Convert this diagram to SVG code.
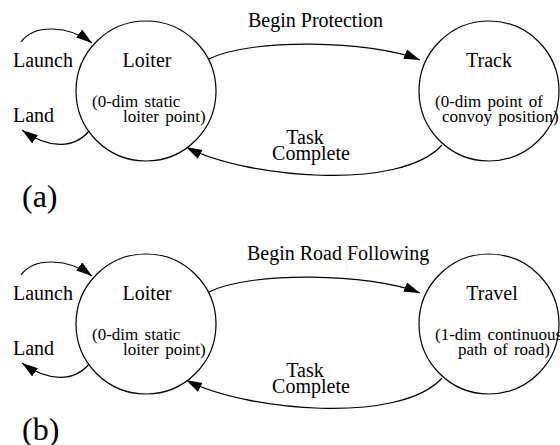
<svg xmlns="http://www.w3.org/2000/svg" width="560" height="445" viewBox="0 0 560 445">
<style>
text{font-family:"Liberation Serif","Times New Roman",serif;fill:#000}
.lbl{font-size:20px}
.sm{font-size:17px;word-spacing:2px}
.big{font-size:32px}
.node{fill:#fff;stroke:#000;stroke-width:1.2}
.edge{fill:none;stroke:#000;stroke-width:1.2;marker-end:url(#arr)}
</style>
<defs>
<marker id="arr" markerUnits="userSpaceOnUse" markerWidth="17" markerHeight="11" refX="16" refY="5" orient="auto">
<path d="M0,0 L16,5 L0,10 z" fill="#000"/>
</marker>
</defs>
<rect width="560" height="445" fill="#fff"/>

<g id="connectors">
<path class="edge" d="M21,42 C34,24 68,25 92,43"/>
<path class="edge" d="M89,131 C75,148 50,150 22,130"/>
<path class="edge" d="M209,59 C250,38 370,40 420,60"/>
<path class="edge" d="M442,145 C400,192 245,178 186,147"/>
<path class="edge" d="M21,275 C34,257 68,258 92,276"/>
<path class="edge" d="M89,364 C75,381 50,383 22,363"/>
<path class="edge" d="M209,292 C250,271 370,273 420,293"/>
<path class="edge" d="M442,378 C400,425 245,411 186,380"/>
</g>

<g id="labels-a">
<text class="lbl" x="13" y="67">Launch</text>
<text class="lbl" x="13" y="122">Land</text>
<text class="lbl" x="248" y="27">Begin Protection</text>
<text class="lbl" x="305" y="144" text-anchor="middle">Task</text>
<text class="lbl" x="311" y="160" text-anchor="middle">Complete</text>
<text class="big" x="22" y="207">(a)</text>
</g>

<g id="loiter-a">
<circle class="node" cx="146" cy="91" r="70"/>
<text class="lbl" x="147" y="67" text-anchor="middle">Loiter</text>
<text class="sm" x="92" y="107">(0-dim static</text>
<text class="sm" x="123" y="122">loiter point)</text>
</g>

<g id="track-a">
<circle class="node" cx="489" cy="91" r="70"/>
<text class="lbl" x="489" y="67" text-anchor="middle">Track</text>
<text class="sm" x="435" y="107">(0-dim point of</text>
<text class="sm" x="442" y="122">convoy position)</text>
</g>

<g id="labels-b">
<text class="lbl" x="13" y="300">Launch</text>
<text class="lbl" x="13" y="355">Land</text>
<text class="lbl" x="247" y="260">Begin Road Following</text>
<text class="lbl" x="305" y="377" text-anchor="middle">Task</text>
<text class="lbl" x="311" y="393" text-anchor="middle">Complete</text>
<text class="big" x="22" y="440">(b)</text>
</g>

<g id="loiter-b">
<circle class="node" cx="146" cy="324" r="70"/>
<text class="lbl" x="147" y="300" text-anchor="middle">Loiter</text>
<text class="sm" x="92" y="340">(0-dim static</text>
<text class="sm" x="123" y="355">loiter point)</text>
</g>

<g id="travel-b">
<circle class="node" cx="489" cy="324" r="70"/>
<text class="lbl" x="492" y="300" text-anchor="middle">Travel</text>
<text class="sm" x="435" y="340">(1-dim continuous</text>
<text class="sm" x="458" y="355">path of road)</text>
</g>
</svg>
